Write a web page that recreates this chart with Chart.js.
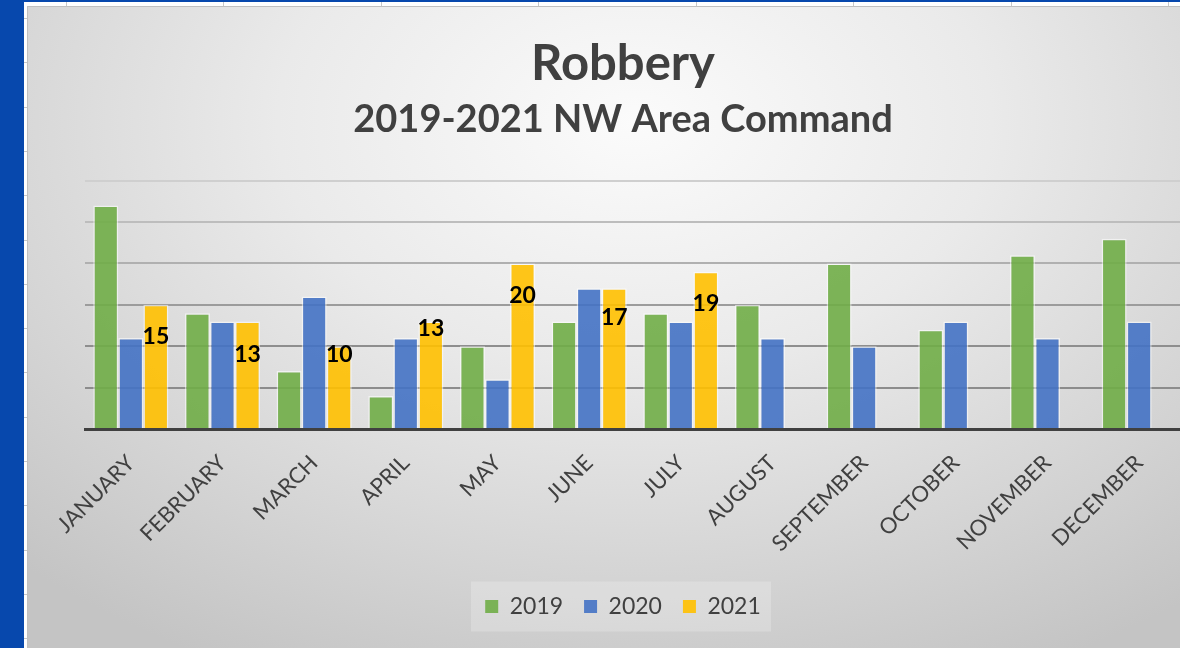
<!DOCTYPE html>
<html>
<head>
<meta charset="utf-8">
<script src="https://cdn.jsdelivr.net/npm/chart.js@4"></script>
<style>
  html, body { margin: 0; padding: 0; width: 1180px; height: 648px; overflow: hidden; background: #ffffff; position: relative; }
  #blue { position: absolute; left: 0; top: 0; width: 24px; height: 648px; background: #0748ad; }
  #topline { position: absolute; left: 0; top: 0; width: 1180px; height: 2px; background: #0748ad; }
  #topcells { position: absolute; left: 24px; top: 2px; width: 1156px; height: 4px;
    background: repeating-linear-gradient(to right, transparent 0, transparent 42px, #c8c8c8 42px, #c8c8c8 43px, transparent 43px, transparent 157.5px); }
  #leftcells { position: absolute; left: 24px; top: 0; width: 3px; height: 648px;
    background: repeating-linear-gradient(to bottom, transparent 0, transparent 18px, #c8c8c8 18px, #c8c8c8 19px, transparent 19px, transparent 44.3px); }
  #wrap { position: absolute; left: 27px; top: 6px; width: 1190px; height: 642px;
    border-top: 1px solid #c0c0c0; border-left: 1px solid #c0c0c0; box-sizing: border-box;
    background: radial-gradient(ellipse 75% 95% at 51% 18%, #fbfbfb 0%, #eaeaea 40%, #d4d4d4 75%, #c4c4c4 100%); }
  canvas { display: block; }
</style>
</head>
<body>
<div id="blue"></div>
<div id="topline"></div>
<div id="topcells"></div>
<div id="leftcells"></div>
<div id="wrap"><canvas id="c" width="1189" height="641"></canvas></div>
<script>
const months = ['JANUARY','FEBRUARY','MARCH','APRIL','MAY','JUNE','JULY','AUGUST','SEPTEMBER','OCTOBER','NOVEMBER','DECEMBER'];
const series2019 = [27, 14, 7, 4, 10, 13, 14, 15, 20, 12, 21, 23];
const series2020 = [11, 13, 16, 11, 6, 17, 13, 11, 10, 13, 11, 13];
const series2021 = [15, 13, 10, 13, 20, 17, 19, null, null, null, null, null];
const yTicks = [0, 5, 10, 15, 20, 25, 30];

// style: vertical nudge (px below bar top) for the 2021 value labels
const labelNudge = [32, 33, 8, 7, 32, 29, 32];
const gridColors = ['rgba(0,0,0,0)', '#8c8c8c', '#8e8e8e', '#9c9c9c', '#b0b0b0', '#bdbdbd', '#cfcfcf'];

const FONT = 'Lato, "Open Sans", sans-serif';

const legendBg = {
  id: 'legendBg',
  beforeDraw(chart) {
    const l = chart.legend;
    if (!l || !l.legendHitBoxes.length) return;
    const ctx = chart.ctx;
    const hb = l.legendHitBoxes;
    ctx.save();
    ctx.fillStyle = 'rgba(255,255,255,0.22)';
    const w = 300, h = 50;
    const cx = (hb[0].left + hb[hb.length - 1].left + hb[hb.length - 1].width) / 2;
    const cy = hb[0].top + hb[0].height / 2;
    ctx.fillRect(cx - w / 2 - 2, cy - h / 2, w, h);
    ctx.restore();
  }
};

const valueLabels = {
  id: 'valueLabels',
  afterDatasetsDraw(chart) {
    const ctx = chart.ctx;
    const meta = chart.getDatasetMeta(2);
    ctx.save();
    ctx.font = 'bold 23px ' + FONT;
    ctx.fillStyle = '#000000';
    ctx.textAlign = 'center';
    ctx.textBaseline = 'middle';
    meta.data.forEach((bar, i) => {
      const v = series2021[i];
      if (v === null || v === undefined) return;
      ctx.fillText(String(v), bar.x, bar.y + (labelNudge[i] || 0));
    });
    ctx.restore();
  }
};

const ds = (label, data, rgb) => ({
  label, data,
  backgroundColor: 'rgba(' + rgb + ',0.9)',
  borderColor: 'rgba(255,255,255,0.55)',
  borderWidth: 1.5,
  categoryPercentage: 0.82,
  barPercentage: 1.0
});

new Chart(document.getElementById('c'), {
  type: 'bar',
  data: {
    labels: months,
    datasets: [
      ds('2019', series2019, '112,173,71'),
      ds('2020', series2020, '68,114,196'),
      ds('2021', series2021, '255,192,0')
    ]
  },
  options: {
    responsive: false,
    animation: false,
    devicePixelRatio: 1,
    layout: { padding: { left: 33, right: 32, top: 0, bottom: 20 } },
    plugins: {
      title: {
        display: true, text: 'Robbery', color: '#404040',
        font: { family: FONT, size: 49, weight: 'bold', lineHeight: 1.1 },
        padding: { top: 30, bottom: 2 }
      },
      subtitle: {
        display: true, text: '2019-2021 NW Area Command', color: '#404040',
        font: { family: FONT, size: 38, weight: 'bold', lineHeight: 1.1 },
        padding: { top: 6, bottom: 40 }
      },
      legend: {
        position: 'bottom',
        labels: {
          color: '#404040',
          font: { family: FONT, size: 23 },
          boxWidth: 13, boxHeight: 13, padding: 21,
          generateLabels(chart) {
            return Chart.defaults.plugins.legend.labels.generateLabels(chart).map(it => {
              const c = chart.data.datasets[it.datasetIndex].backgroundColor;
              it.fillStyle = c; it.strokeStyle = c; it.lineWidth = 0;
              return it;
            });
          }
        }
      },
      tooltip: { enabled: false }
    },
    scales: {
      x: {
        grid: { display: false },
        border: { display: true, color: '#404040', width: 3 },
        ticks: { color: '#404040', font: { family: FONT, size: 22 }, minRotation: 45, maxRotation: 45, padding: 13 },
        afterFit(scale) { scale.height = 145; }
      },
      y: {
        min: yTicks[0], max: yTicks[yTicks.length - 1],
        afterBuildTicks(scale) { scale.ticks = yTicks.map(v => ({ value: v })); },
        afterFit(scale) { scale.width = 24; },
        ticks: { display: false },
        border: { display: false },
        grid: { color: ctx => gridColors[ctx.index] || '#aaa', lineWidth: 2, drawTicks: false }
      }
    }
  },
  plugins: [legendBg, valueLabels]
});
</script>
</body>
</html>
